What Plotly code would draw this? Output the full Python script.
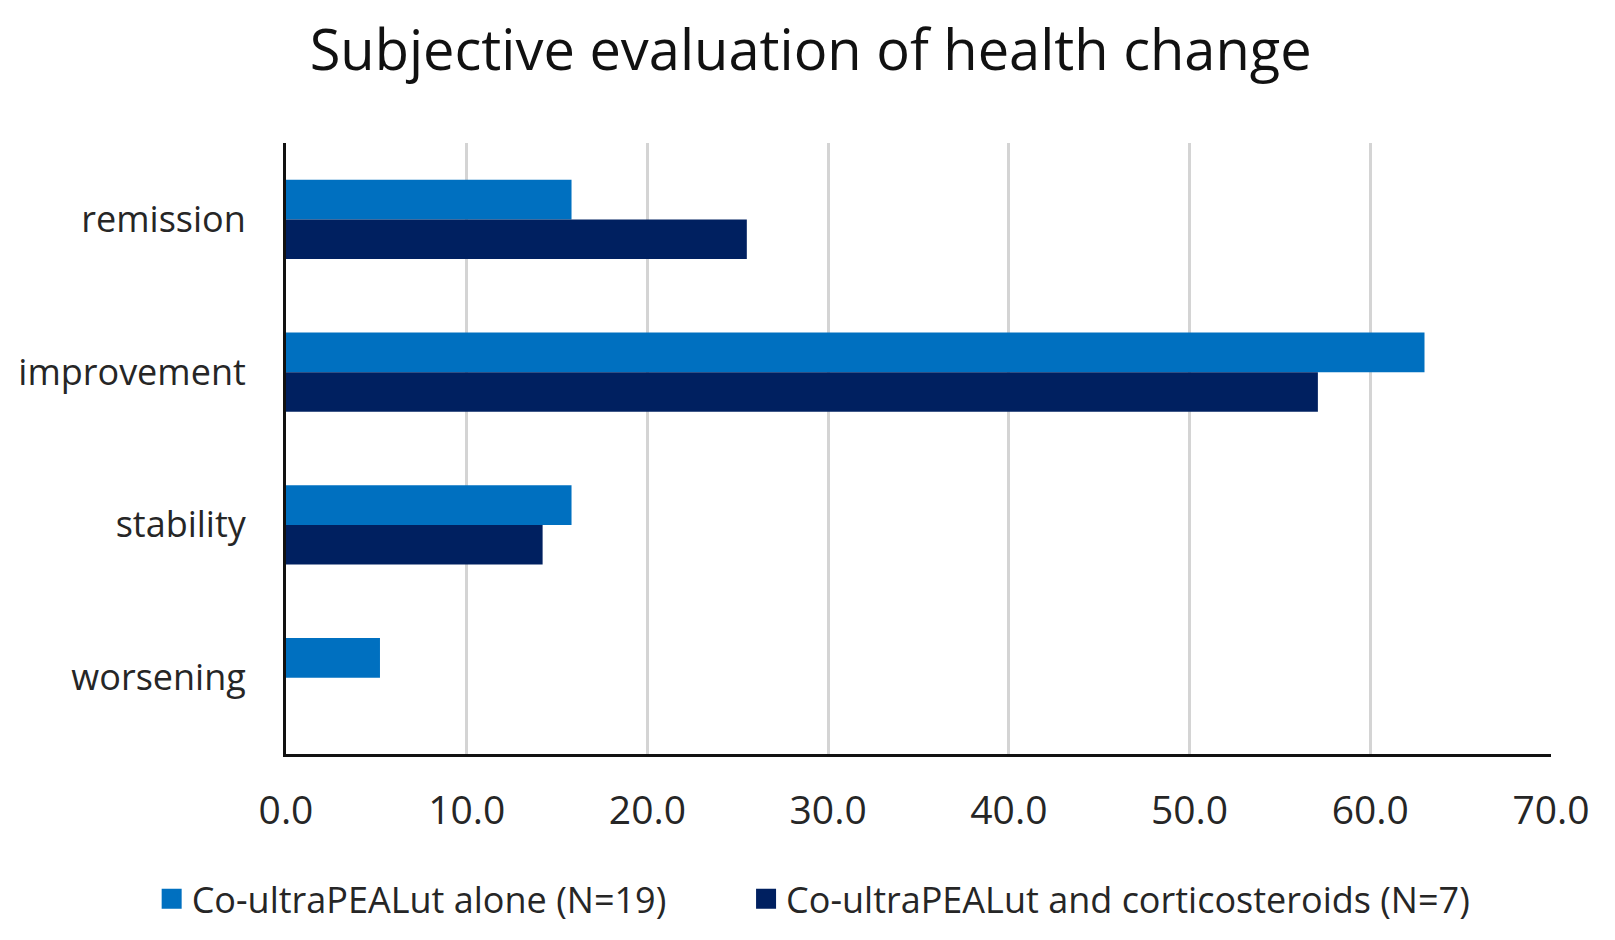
import plotly.graph_objects as go

categories = ["remission", "improvement", "stability", "worsening"]
alone = [15.8, 63.0, 15.8, 5.2]
cortico = [25.5, 57.1, 14.2, 0.0]
series_names = ["Co-ultraPEALut alone (N=19)", "Co-ultraPEALut and corticosteroids (N=7)"]
colors = ["#0070C0", "#002060"]
x_ticks = [0, 10, 20, 30, 40, 50, 60, 70]

FONT = "'Open Sans', 'Noto Sans', sans-serif"
TXT = "#262626"

fig = go.Figure()
for vals, name, col in zip([alone, cortico], series_names, colors):
    fig.add_trace(go.Bar(y=categories, x=vals, orientation="h", name=name,
                         marker=dict(color=col, line=dict(width=0)), showlegend=False))
# legend entries with larger square symbols
for i, (name, col) in enumerate(zip(series_names, colors)):
    label = name + ("\u00a0" * 8 if i == 0 else "")
    fig.add_trace(go.Scatter(x=[None], y=[None], mode="markers", name=label,
                             marker=dict(symbol="square", size=16, color=col,
                                         line=dict(color=col, width=4)),
                             showlegend=True))

fig.update_layout(
    width=1615, height=940,
    paper_bgcolor="white", plot_bgcolor="white",
    margin=dict(l=278, r=72, t=135, b=194),
    barmode="group", bargap=0.48, bargroupgap=0,
    font=dict(family=FONT, color=TXT, size=36),
    title=dict(text="Subjective evaluation of health change", x=0.497, xref="container",
               xanchor="center", y=0.955, yanchor="middle",
               font=dict(size=56, color="#111111", family=FONT)),
    xaxis=dict(range=[0, 70], tickvals=x_ticks, tickformat=".1f", showgrid=True,
               gridcolor="#D4D4D4", gridwidth=3, showline=True, linecolor="#111111",
               linewidth=3, zeroline=False, ticks="", ticklabelstandoff=20,
               automargin=False, tickfont=dict(size=39, family=FONT, color=TXT)),
    yaxis=dict(categoryorder="array", categoryarray=categories, autorange="reversed",
               showline=True, linecolor="#111111", linewidth=3, showgrid=False,
               ticks="", ticklabelstandoff=30, automargin=False,
               tickfont=dict(size=36, family=FONT, color=TXT)),
    legend=dict(orientation="h", x=-0.1062, xanchor="left", y=-0.237, yanchor="middle",
                font=dict(size=36, family=FONT, color=TXT), itemwidth=30,
                traceorder="normal"),
)

fig.write_html("out.html")
